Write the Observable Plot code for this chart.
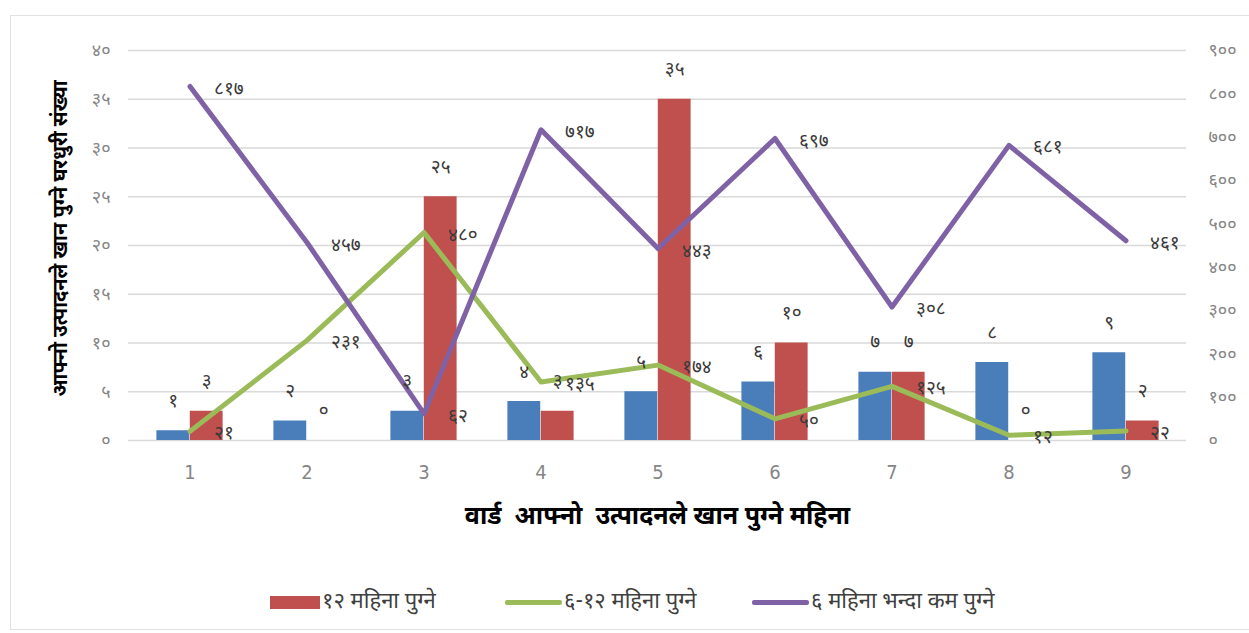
<!DOCTYPE html>
<html>
<head>
<meta charset="utf-8">
<script src="https://cdn.jsdelivr.net/npm/d3@7"></script>
<script src="https://cdn.jsdelivr.net/npm/@observablehq/plot@0.6"></script>
<style>
  html, body { margin: 0; padding: 0; background: #fff; }
  body { width: 1249px; height: 633px; position: relative; overflow: hidden;
         font-family: "Noto Sans Devanagari", "Noto Sans", sans-serif; }
  #frame { position: absolute; left: 10px; top: 15px; width: 1260px; height: 613px;
           border: 1.5px solid #e2e2e2; pointer-events: none; }
  #chart svg { display: block; }
  #legend { position: absolute; left: 0; top: 587px; width: 1249px; height: 30px;
            font-size: 22px; color: #404040; }
  .item { position: absolute; top: 0; display: flex; align-items: center; height: 30px; white-space: nowrap; }
  .sw-rect { width: 50px; height: 13px; margin-right: 2px; }
  .sw-line { width: 57px; height: 5px; margin-right: 2px; border-radius: 2px; }
</style>
</head>
<body>
<div id="frame"></div>
<div id="chart"></div>
<div id="legend"></div>
<script>
// ---- data ----
const wards = [1, 2, 3, 4, 5, 6, 7, 8, 9];
const wardBars = [1, 2, 3, 4, 5, 6, 7, 8, 9];            // blue bars (unlabelled series)
const months12 = [3, 0, 25, 3, 35, 10, 7, 0, 2];          // १२ महिना पुग्ने (left axis)
const months6to12 = [21, 231, 480, 135, 174, 50, 125, 12, 22];   // ६-१२ महिना पुग्ने (right axis)
const monthsUnder6 = [817, 457, 62, 717, 443, 697, 308, 681, 461]; // ६ महिना भन्दा कम पुग्ने (right axis)
const leftTicks = [0, 5, 10, 15, 20, 25, 30, 35, 40];
const rightTicks = [0, 100, 200, 300, 400, 500, 600, 700, 800, 900];
const seriesNames = ["१२ महिना पुग्ने", "६-१२ महिना पुग्ने", "६ महिना भन्दा कम पुग्ने"];
const xTitle = "वार्ड  आफ्नो  उत्पादनले खान पुग्ने महिना";
const yTitle = "आफ्नो उत्पादनले खान पुग्ने घरधुरी संख्या";

const colors = { blue: "#4a7ebb", red: "#c0504d", green: "#9bbb59", purple: "#7f62a6" };
const devDigits = "०१२३४५६७८९";
const dev = n => String(n).replace(/\d/g, d => devDigits[d]);

const leftMax = 40, rightMax = 900;
const toLeft = v => v * leftMax / rightMax;

const rows = wards.map((w, i) => ({
  ward: w,
  blue: wardBars[i],
  red: months12[i],
  green: months6to12[i],
  purple: monthsUnder6[i],
  greenY: toLeft(months6to12[i]),
  purpleY: toLeft(monthsUnder6[i])
}));

const W = 1249, H = 560, ml = 128, mr = 63, mt = 50, mb = 120;
const step = (W - ml - mr) / wards.length;
const barW = step * 0.284;
const half = step / 2;

const devFont = "'Noto Sans Devanagari', 'Noto Sans', sans-serif";
const labelStyle = { fontSize: 19, fill: "#3a3a3a", fontFamily: devFont };

const chart = Plot.plot({
  width: W, height: H,
  marginLeft: ml, marginRight: mr, marginTop: mt, marginBottom: mb,
  x: { type: "band", domain: wards, padding: 0 },
  y: { domain: [0, leftMax] },
  style: { background: "transparent", fontFamily: devFont },
  marks: [
    Plot.gridY(leftTicks, { stroke: "#d9d9d9", strokeOpacity: 1, strokeWidth: 1.5 }),
    Plot.axisY(leftTicks, { anchor: "left", tickSize: 0, tickPadding: 18, tickFormat: dev,
      fontSize: 18, color: "#858585", label: null }),
    Plot.axisY(rightTicks.map(toLeft), { anchor: "right", tickSize: 0, tickPadding: 22,
      tickFormat: d => dev(Math.round(d * rightMax / leftMax)), textAnchor: "start",
      fontSize: 18, color: "#858585", label: null }),
    Plot.axisX({ tickSize: 0, tickPadding: 24, fontSize: 20, color: "#858585", label: null,
      fontFamily: "'DejaVu Sans Condensed', 'Liberation Sans Narrow', sans-serif" }),
    Plot.barY(rows, { x: "ward", y: "blue", fill: colors.blue, insetLeft: half - barW, insetRight: half }),
    Plot.barY(rows, { x: "ward", y: "red", fill: colors.red, insetLeft: half, insetRight: half - barW }),
    Plot.line(rows, { x: "ward", y: "greenY", stroke: colors.green, strokeWidth: 5 }),
    Plot.line(rows, { x: "ward", y: "purpleY", stroke: colors.purple, strokeWidth: 5 }),
    Plot.text(rows, { x: "ward", y: "blue", text: d => dev(d.blue), dx: -barW / 2, dy: -30, ...labelStyle }),
    Plot.text(rows, { x: "ward", y: "red", text: d => dev(d.red), dx: barW / 2, dy: -30, ...labelStyle }),
    Plot.text(rows, { x: "ward", y: "greenY", text: d => dev(d.green), textAnchor: "start", dx: 24, dy: 2, ...labelStyle }),
    Plot.text(rows, { x: "ward", y: "purpleY", text: d => dev(d.purple), textAnchor: "start", dx: 24, dy: 2, ...labelStyle }),
    Plot.text([xTitle], { frameAnchor: "bottom", dy: 83, fontSize: 25, fontWeight: "bold", fill: "#000" }),
    Plot.text([yTitle], { frameAnchor: "left", rotate: -90, textAnchor: "middle", dx: -68, dy: -7,
      fontSize: 20, fontWeight: "bold", fill: "#000" })
  ]
});
document.getElementById("chart").appendChild(chart);

// legend
const legend = document.getElementById("legend");
const legendItems = [
  { name: seriesNames[0], color: colors.red, kind: "rect", left: 270 },
  { name: seriesNames[1], color: colors.green, kind: "line", left: 505 },
  { name: seriesNames[2], color: colors.purple, kind: "line", left: 752 }
];
legendItems.forEach(it => {
  const d = document.createElement("div");
  d.className = "item";
  d.style.left = it.left + "px";
  const sw = document.createElement("span");
  sw.className = it.kind === "rect" ? "sw-rect" : "sw-line";
  sw.style.background = it.color;
  const t = document.createElement("span");
  t.textContent = it.name;
  d.appendChild(sw); d.appendChild(t);
  legend.appendChild(d);
});
</script>
</body>
</html>
